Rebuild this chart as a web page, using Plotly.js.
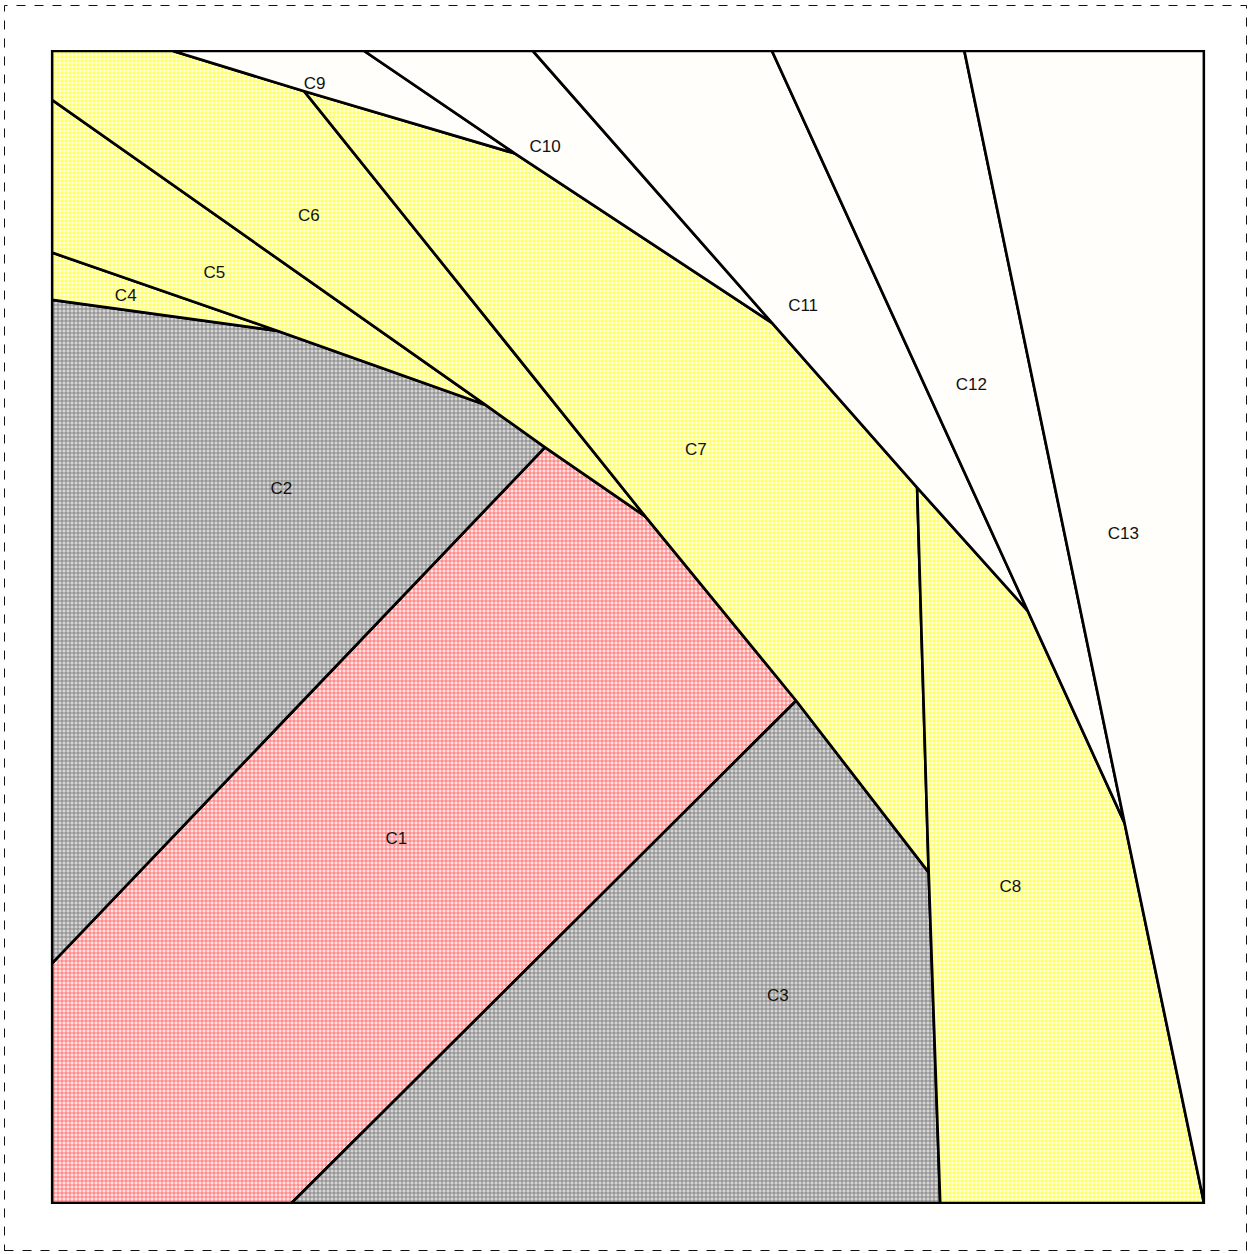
<!DOCTYPE html>
<html>
<head>
<meta charset="utf-8">
<script src="https://cdn.plot.ly/plotly-3.0.1.min.js"></script>
<style>html,body{margin:0;padding:0;background:#fff;}#chart{width:1251px;height:1254px;}</style>
</head>
<body>
<div id="chart"></div>
<script>
// Region polygons (data units 0..100)
const C1_x = [42.8, 51.5, 64.6, 20.8, 0, 0];
const C1_y = [65.6, 59.6, 43.6, 0, 0, 20.8];
const C2_x = [0, 19.6, 37.6, 42.8, 0];
const C2_y = [78.4, 75.7, 69.3, 65.6, 20.8];
const C3_x = [64.6, 76.1, 77.1, 20.8];
const C3_y = [43.6, 28.7, 0, 0];
const C4_x = [0, 19.6, 0];
const C4_y = [82.5, 75.7, 78.4];
const C5_x = [0, 37.6, 19.6, 0];
const C5_y = [95.75, 69.3, 75.7, 82.5];
const C6_x = [0, 10.5, 21.9, 51.5, 42.8, 37.6, 0];
const C6_y = [100, 100, 96.5, 59.6, 65.6, 69.3, 95.75];
const C7_x = [21.9, 40.2, 62.5, 75.1, 76.1, 64.6, 51.5];
const C7_y = [96.5, 91.1, 76.4, 62.1, 28.7, 43.6, 59.6];
const C8_x = [75.1, 84.7, 93.1, 100, 77.1, 76.1];
const C8_y = [62.1, 51.4, 33.0, 0, 0, 28.7];
const C9_x = [10.5, 27.1, 40.2, 21.9];
const C9_y = [100, 100, 91.1, 96.5];
const C10_x = [27.1, 41.75, 62.5, 40.2];
const C10_y = [100, 100, 76.4, 91.1];
const C11_x = [41.75, 62.5, 84.7, 75.1, 62.5];
const C11_y = [100, 100, 51.4, 62.1, 76.4];
const C12_x = [62.5, 79.2, 93.1, 84.7];
const C12_y = [100, 100, 33.0, 51.4];
const C13_x = [79.2, 100, 100, 93.1];
const C13_y = [100, 100, 0, 33.0];

// Labels
const labelText = ["C1","C2","C3","C4","C5","C6","C7","C8","C9","C10","C11","C12","C13"];
const labelX = [29.9, 19.9, 63.0, 6.4, 14.1, 22.3, 55.9, 83.2, 22.8, 42.8, 65.2, 79.8, 93.0];
const labelY = [31.5, 61.9, 17.9, 78.7, 80.7, 85.6, 65.3, 27.4, 97.1, 91.6, 77.8, 70.9, 58.0];

const regionKind = {C1:"pink", C2:"grey", C3:"grey", C4:"yellow", C5:"yellow", C6:"yellow",
  C7:"yellow", C8:"yellow", C9:"white", C10:"white", C11:"white", C12:"white", C13:"white"};
const polys = {C1:[C1_x,C1_y],C2:[C2_x,C2_y],C3:[C3_x,C3_y],C4:[C4_x,C4_y],C5:[C5_x,C5_y],
  C6:[C6_x,C6_y],C7:[C7_x,C7_y],C8:[C8_x,C8_y],C9:[C9_x,C9_y],C10:[C10_x,C10_y],
  C11:[C11_x,C11_y],C12:[C12_x,C12_y],C13:[C13_x,C13_y]};

const styles = {
  yellow: {fillcolor:"#ffffa0", fillpattern:{shape:"+", bgcolor:"#ffffe2", fgcolor:"#ffff30", size:4, solidity:0.38}},
  grey:   {fillcolor:"#b0b0b0", fillpattern:{shape:"+", bgcolor:"#d6d6d6", fgcolor:"#787878", size:4, solidity:0.38}},
  pink:   {fillcolor:"#ffa0a0", fillpattern:{shape:"+", bgcolor:"#ffe2e2", fgcolor:"#ff6464", size:4, solidity:0.38}},
  white:  {fillcolor:"#fffefa"}
};

const traces = [];
Object.keys(polys).forEach(k => {
  const [xs, ys] = polys[k];
  const st = styles[regionKind[k]];
  const t = {
    type:"scatter", mode:"lines", fill:"toself",
    x: xs.concat([xs[0]]), y: ys.concat([ys[0]]),
    line:{color:"#000", width:2.7},
    fillcolor: st.fillcolor, hoverinfo:"skip", showlegend:false
  };
  if (st.fillpattern) t.fillpattern = st.fillpattern;
  traces.push(t);
});
traces.push({
  type:"scatter", mode:"text", x:labelX, y:labelY, text:labelText,
  textposition:"middle center",
  textfont:{family:"Liberation Sans Narrow, Arial Narrow, Liberation Sans, Arial, sans-serif", size:17, color:"#111"},
  hoverinfo:"skip", showlegend:false
});

const W = 1251, H = 1254, ml = 52, mr = 47, mt = 51, mb = 51;
const pw = W - ml - mr, ph = H - mt - mb;
const layout = {
  width: W, height: H,
  margin:{l:ml, r:mr, t:mt, b:mb, pad:0},
  paper_bgcolor:"#fff", plot_bgcolor:"#fff",
  xaxis:{range:[0,100], showgrid:false, zeroline:false, showticklabels:false, ticks:"", showline:false, fixedrange:true},
  yaxis:{range:[0,100], showgrid:false, zeroline:false, showticklabels:false, ticks:"", showline:false, fixedrange:true},
  shapes:[
    {type:"rect", xref:"paper", yref:"paper", x0:0, x1:1, y0:0, y1:1, line:{color:"#000", width:2.2}, layer:"above"},
    {type:"rect", xref:"paper", yref:"paper",
     x0:(4.5-ml)/pw, x1:(1246.5-ml)/pw, y0:(H-mb-1250.5)/ph, y1:(H-mb-5.5)/ph,
     line:{color:"#111", width:1, dash:"dash"}, layer:"above"}
  ]
};
Plotly.newPlot("chart", traces, layout, {displayModeBar:false, staticPlot:true});
</script>
</body>
</html>
